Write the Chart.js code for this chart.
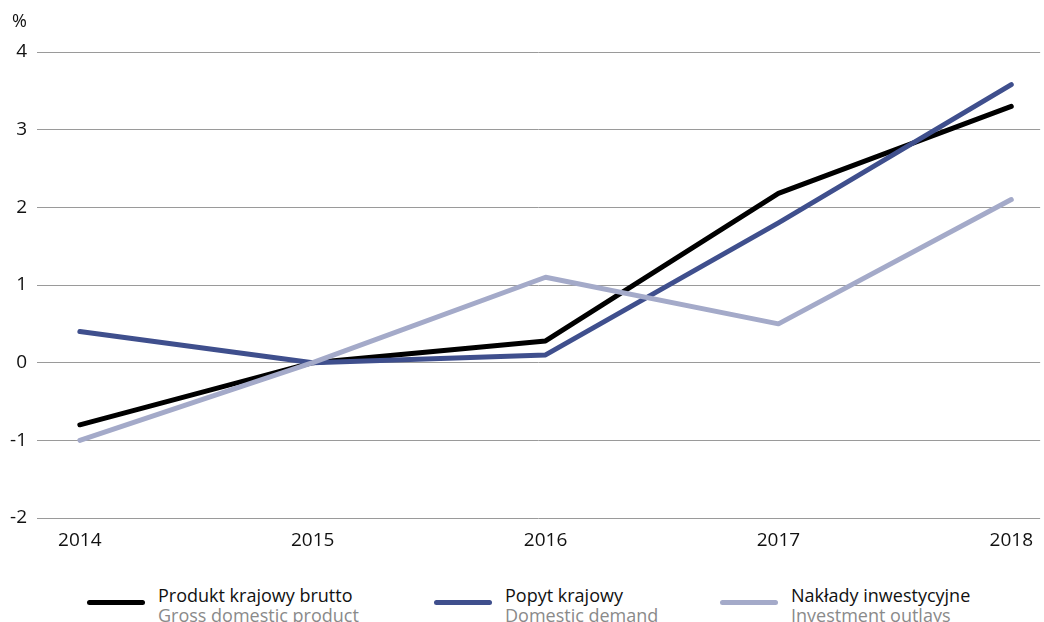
<!DOCTYPE html>
<html lang="pl">
<head>
  <meta charset="UTF-8">
  <title>Produkt krajowy brutto, popyt krajowy, nakłady inwestycyjne</title>
  <script src="https://cdn.jsdelivr.net/npm/chart.js@4"></script>
  <style>
    html, body {
      margin: 0;
      padding: 0;
      background: #fff;
      width: 1044px;
      height: 622px;
      overflow: hidden;
      font-family: "Open Sans", sans-serif;
    }
    #wrap {
      position: absolute;
      left: 0;
      top: 0;
      width: 1044px;
      height: 560px;
    }
    #unit {
      position: absolute;
      left: 12px;
      top: 8px;
      font-size: 18px;
      color: #111;
    }
    .leg {
      position: absolute;
      top: 585px;
      font-size: 18px;
      line-height: 20px;
      color: #111;
      white-space: nowrap;
    }
    .leg .swatch {
      position: absolute;
      left: -71px;
      top: 15px;
      width: 58px;
      height: 5px;
      border-radius: 3px;
    }
    .leg .en { color: #8a8a8a; }
  </style>
</head>
<body>
<div id="wrap"><canvas id="chart"></canvas></div>
<div id="unit">%</div>
<div id="legend"></div>

<script>
const years = [2014, 2015, 2016, 2017, 2018];
const gdp = [-0.8, 0.0, 0.28, 2.18, 3.3];
const domesticDemand = [0.4, 0.0, 0.1, 1.8, 3.58];
const investment = [-1.0, 0.0, 1.1, 0.5, 2.1];
const yTicks = [-2, -1, 0, 1, 2, 3, 4];

const seriesNamesPl = ["Produkt krajowy brutto", "Popyt krajowy", "Nakłady inwestycyjne"];
const seriesNamesEn = ["Gross domestic product", "Domestic demand", "Investment outlays"];
const colors = ["#000000", "#3f4f8d", "#a4aac9"];
const legendX = [158, 505, 791];

const pts = vals => vals.map((v, i) => ({ x: years[i], y: v }));

// drawn light first so the darker lines sit on top
const chart = new Chart(document.getElementById("chart"), {
  type: "line",
  data: {
    datasets: [investment, domesticDemand, gdp].map((vals, k) => {
      const idx = 2 - k;
      return {
        label: seriesNamesPl[idx],
        data: pts(vals),
        borderColor: colors[idx],
        borderWidth: 5,
        borderCapStyle: "round",
        borderJoinStyle: "round",
        pointRadius: 0,
        tension: 0,
        fill: false
      };
    })
  },
  options: {
    responsive: true,
    maintainAspectRatio: false,
    animation: false,
    layout: { padding: { top: 52, left: 0, right: 0, bottom: 0 } },
    plugins: {
      legend: { display: false },
      tooltip: { enabled: false }
    },
    scales: {
      x: {
        type: "linear",
        min: 2013.816,
        max: 2018.124,
        afterBuildTicks: axis => { axis.ticks = years.map(v => ({ value: v })); },
        afterFit: axis => { axis.height = 42; },
        grid: { display: false, drawTicks: false },
        border: { display: false },
        ticks: {
          padding: 11,
          color: "#111",
          font: { family: "Open Sans", size: 19 },
          maxRotation: 0,
          callback: v => String(v)
        }
      },
      y: {
        min: -2,
        max: 4,
        afterBuildTicks: axis => { axis.ticks = yTicks.map(v => ({ value: v })); },
        afterFit: axis => { axis.width = 37; },
        grid: { color: "#9a9a9a", lineWidth: 1, drawTicks: false },
        border: { display: false },
        ticks: {
          padding: 10,
          color: "#111",
          font: { family: "Open Sans", size: 19 }
        }
      }
    }
  }
});

const legend = document.getElementById("legend");
seriesNamesPl.forEach((name, i) => {
  const item = document.createElement("div");
  item.className = "leg";
  item.style.left = legendX[i] + "px";
  item.innerHTML = `<div class="swatch" style="background:${colors[i]}"></div>` +
    `<div>${name}</div><div class="en">${seriesNamesEn[i]}</div>`;
  legend.appendChild(item);
});
</script>
</body>
</html>
